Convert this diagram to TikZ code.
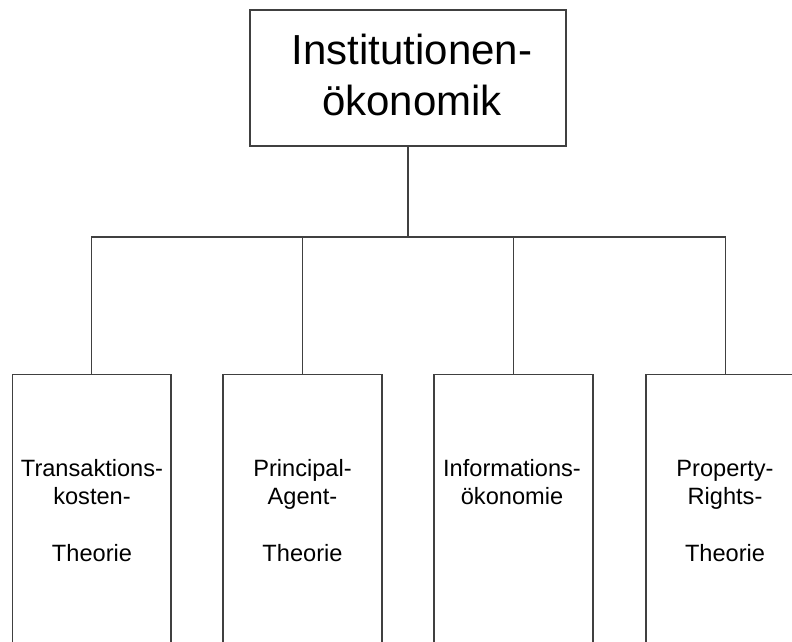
\documentclass[tikz,border=0pt]{standalone}
\usepackage{fontspec}
\setmainfont{Liberation Sans}
\begin{document}
\begin{tikzpicture}[x=1pt,y=-1pt,
  boxline/.style={draw=black!75,line width=1.2pt},
  topbox/.style={boxline,fill=white,minimum width=316pt,minimum height=136pt,inner sep=0pt},
  subbox/.style={boxline,fill=white,minimum width=159pt,minimum height=320pt,inner sep=0pt,anchor=north},
  conn/.style={draw=black!75,line width=1.2pt},
  bigtxt/.style={anchor=base,inner sep=0pt,font=\fontsize{42}{50}\selectfont},
  smalltxt/.style={anchor=base,inner sep=0pt,font=\fontsize{23.6}{28.5}\selectfont}]
\useasboundingbox (0,0) rectangle (792,642);
\clip (0,0) rectangle (792,642);
\fill[white] (0,0) rectangle (792,642);
% top box
\node[topbox] (top) at (408,78) {};
\node[bigtxt] (t1) at (412,65) {Institutionen-};
\node[bigtxt] (t2) at (412,115) {ökonomik};
% bottom boxes
\node[subbox,minimum width=158.3pt] (b1) at (91.85,374) {};
\node[subbox] (b2) at (302.5,374) {};
\node[subbox] (b3) at (513.5,374) {};
\node[subbox] (b4) at (725.5,374) {};
% connectors
\coordinate (bus) at (408,237);
\draw[conn] (top.south) -- (bus);
\draw[conn] (bus) -| (b1.north);
\draw[conn] (bus) -| (b2.north);
\draw[conn] (bus) -| (b3.north);
\draw[conn] (bus) -| (b4.north);
% texts
\node[smalltxt] (l11) at (92,476) {Transaktions-};
\node[smalltxt] (l12) at (92,504) {kosten-};
\node[smalltxt] (l13) at (92,561) {Theorie};
\node[smalltxt] (l21) at (302.5,476) {Principal-};
\node[smalltxt] (l22) at (302.5,504) {Agent-};
\node[smalltxt] (l23) at (302.5,561) {Theorie};
\node[smalltxt] (l31) at (512,476) {Informations-};
\node[smalltxt] (l32) at (512,504) {ökonomie};
\node[smalltxt] (l41) at (725,476) {Property-};
\node[smalltxt] (l42) at (725,504) {Rights-};
\node[smalltxt] (l43) at (725,561) {Theorie};
\end{tikzpicture}
\end{document}
